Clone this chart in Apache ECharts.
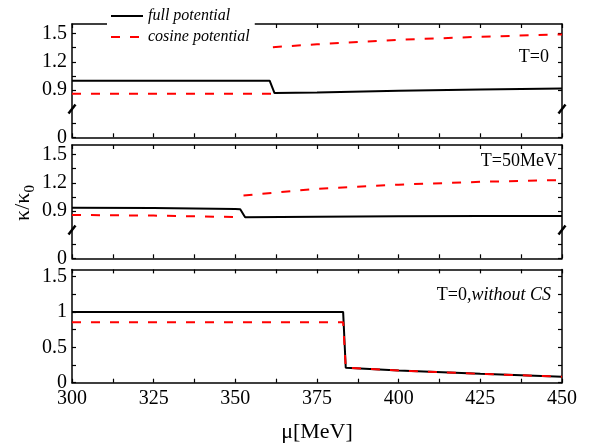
<!DOCTYPE html>
<html><head><meta charset="utf-8">
<script src="https://cdn.jsdelivr.net/npm/echarts@6/dist/echarts.min.js"></script>
<style>html,body{margin:0;padding:0;background:#fff}#c{width:589px;height:447px}</style>
</head><body><div id="c"></div>
<script>
// ---- data ----
const muLabelTicks = [300, 325, 350, 375, 400, 425, 450];
const brokenMajorTicks = [0, 0.9, 1.2, 1.5];
const brokenMinorTicks = [0.15, 1.05, 1.35];
const plainMajorTicks = [0, 0.5, 1, 1.5];
const plainMinorTicks = [0.25, 0.75, 1.25];
const seriesNames = ['full potential', 'cosine potential'];

// Panel 1: T=0   (null = discontinuity, no connecting segment)
const fullT0Mu = [300, 360.5, 362, 375, 400, 425, 450];
const fullT0   = [1.0, 1.0, 0.868, 0.875, 0.893, 0.907, 0.916];
const cosT0Mu  = [300, 361, 361.2, 361.5, 375, 400, 425, 450];
const cosT0    = [0.862, 0.862, null, 1.355, 1.385, 1.432, 1.465, 1.49];

// Panel 2: T=50MeV
const fullT50Mu = [300, 325, 350, 351.5, 353, 375, 400, 425, 450];
const fullT50   = [0.936, 0.932, 0.922, 0.919, 0.834, 0.84, 0.846, 0.849, 0.848];
const cosT50Mu  = [300, 325, 352, 352.2, 352.5, 365, 375, 400, 425, 450];
const cosT50    = [0.859, 0.852, 0.836, null, 1.065, 1.105, 1.135, 1.18, 1.21, 1.229];

// Panel 3: T=0, without CS
const fullNoCSMu = [300, 383, 383.8, 400, 425, 450];
const fullNoCS   = [1.0, 1.0, 0.212, 0.172, 0.125, 0.085];
const cosNoCSMu  = [300, 383, 383.8, 400, 425, 450];
const cosNoCS    = [0.855, 0.855, 0.212, 0.172, 0.125, 0.085];

// ---- broken axis mapping (0..0.3 | 0.7..1.6) ----
const CUT_LO = 0.3, CUT_HI = 0.7;
const tr = v => v >= CUT_HI ? v - (CUT_HI - CUT_LO) : v;

const FONT = '"Liberation Serif","Times New Roman",serif';
const BLACK = '#000', RED = '#ff0000';
const grids = [
  {left: 72, top: 24, width: 490, height: 113.3},
  {left: 72, top: 145, width: 490, height: 113.3},
  {left: 72, top: 269.4, width: 490, height: 113.3}
];

const xAxis = [], yAxis = [], series = [];
function addX(gi, showLabels){
  ['bottom','top'].forEach(pos => {
    xAxis.push({
      gridIndex: gi, type: 'value', min: 300, max: 450, interval: 12.5, position: pos,
      axisLine: {show: true, onZero: false, lineStyle: {color: BLACK, width: 1.5}},
      axisTick: {show: true, inside: true, length: 4, lineStyle: {color: BLACK, width: 1.2}},
      axisLabel: {show: showLabels && pos === 'bottom', margin: 6, color: BLACK, fontFamily: FONT, fontSize: 20,
        formatter: v => muLabelTicks.indexOf(v) >= 0 ? String(v) : ''},
      splitLine: {show: false}
    });
  });
}
function addY(gi, major, minor, mapFn, max){
  ['left','right'].forEach(pos => {
    const majT = major.map(mapFn);
    yAxis.push({
      gridIndex: gi, type: 'value', min: 0, max: max, position: pos,
      axisLine: {show: true, onZero: false, lineStyle: {color: BLACK, width: 1.5}},
      axisTick: {show: true, inside: true, length: 4, customValues: major.concat(minor).map(mapFn), lineStyle: {color: BLACK, width: 1.2}},
      axisLabel: {show: pos === 'left', margin: 5, customValues: majT, color: BLACK, fontFamily: FONT, fontSize: 20,
        formatter: v => { for (let i = 0; i < majT.length; i++) if (Math.abs(majT[i] - v) < 1e-6) return String(major[i]); return ''; }},
      splitLine: {show: false}
    });
  });
}
function addSeries(gi, mu, vals, name, mapFn, isCos){
  series.push({
    type: 'line', name: name, xAxisIndex: gi * 2, yAxisIndex: gi * 2,
    data: mu.map((m, i) => vals[i] === null ? [m, '-'] : [m, mapFn(vals[i])]),
    connectNulls: false,
    symbol: 'none', showSymbol: false, animation: false, z: isCos ? 3 : 2,
    lineStyle: isCos ? {color: RED, width: 2, type: [9, 10], cap: 'butt'} : {color: BLACK, width: 2},
    itemStyle: {color: isCos ? RED : BLACK}
  });
}
const ident = v => v;
addX(0, false); addX(1, false); addX(2, true);
addY(0, brokenMajorTicks, brokenMinorTicks, tr, 1.2);
addY(1, brokenMajorTicks, brokenMinorTicks, tr, 1.2);
addY(2, plainMajorTicks, plainMinorTicks, ident, 1.6);
addSeries(0, fullT0Mu, fullT0, seriesNames[0], tr, false);
addSeries(0, cosT0Mu, cosT0, seriesNames[1], tr, true);
addSeries(1, fullT50Mu, fullT50, seriesNames[0], tr, false);
addSeries(1, cosT50Mu, cosT50, seriesNames[1], tr, true);
addSeries(2, fullNoCSMu, fullNoCS, seriesNames[0], ident, false);
addSeries(2, cosNoCSMu, cosNoCS, seriesNames[1], ident, true);

const chart = echarts.init(document.getElementById('c'), null, {renderer: 'canvas'});
chart.setOption({
  animation: false,
  backgroundColor: '#fff',
  grid: grids,
  xAxis: xAxis, yAxis: yAxis, series: series,
  legend: {
    data: seriesNames, orient: 'vertical', left: 107, top: 5,
    itemWidth: 32, itemHeight: 16, itemGap: 5, padding: [3, 5, 3, 3],
    backgroundColor: '#fff', z: 10,
    itemStyle: {opacity: 0},
    lineStyle: {width: 2},
    textStyle: {fontFamily: FONT, fontStyle: 'italic', fontSize: 16, color: BLACK}
  }
});

// decorations: axis break marks, panel labels, axis titles
const g = [];
[0, 1].forEach(gi => {
  const pL = chart.convertToPixel({xAxisIndex: gi * 2, yAxisIndex: gi * 2}, [300, CUT_LO]);
  const pR = chart.convertToPixel({xAxisIndex: gi * 2, yAxisIndex: gi * 2}, [450, CUT_LO]);
  [pL, pR].forEach(p => g.push({type: 'line', z: 20,
    shape: {x1: p[0] - 3.5, y1: p[1] + 4.5, x2: p[0] + 3.5, y2: p[1] - 4.5},
    style: {stroke: BLACK, lineWidth: 2.5}}));
});
const labelStyle = {fontFamily: FONT, fontSize: 18, fill: BLACK, align: 'right', verticalAlign: 'middle'};
g.push({type: 'text', z: 20, x: 549, y: 57, style: Object.assign({text: 'T=0'}, labelStyle)});
g.push({type: 'text', z: 20, x: 557, y: 161, style: Object.assign({text: 'T=50MeV'}, labelStyle)});
g.push({type: 'text', z: 20, x: 551, y: 295, style: Object.assign({
  text: '{n|T=0,}{i|without CS}',
  rich: {n: {fontFamily: FONT, fontSize: 18, fill: BLACK}, i: {fontFamily: FONT, fontSize: 18, fontStyle: 'italic', fill: BLACK}}
}, labelStyle)});
g.push({type: 'text', z: 20, x: 317, y: 432, style: {text: 'μ[MeV]', fontFamily: FONT, fontSize: 22, fill: BLACK, align: 'center', verticalAlign: 'middle'}});
g.push({type: 'text', z: 20, x: 23, y: 203, rotation: Math.PI / 2, style: {
  text: '{a|κ/κ}{s|0}', align: 'center', verticalAlign: 'middle',
  rich: {a: {fontFamily: FONT, fontSize: 22, fill: BLACK, verticalAlign: 'bottom'},
         s: {fontFamily: FONT, fontSize: 15, fill: BLACK, verticalAlign: 'bottom', padding: [0, 0, -4, 0]}}
}});
chart.setOption({graphic: g});
</script>
</body></html>
